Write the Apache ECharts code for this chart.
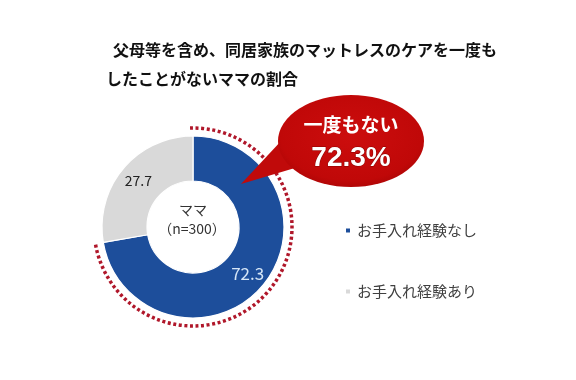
<!DOCTYPE html>
<html>
<head>
<meta charset="utf-8">
<script src="https://cdn.jsdelivr.net/npm/echarts@6/dist/echarts.min.js"></script>
<style>
html,body{margin:0;padding:0;background:#fff;}
#c{width:576px;height:380px;}
</style>
</head>
<body>
<div id="c"></div>
<script>
const titleLines = ['父母等を含め、同居家族のマットレスのケアを一度も', 'したことがないママの割合'];
const categories = ['お手入れ経験なし', 'お手入れ経験あり'];
const values = [72.3, 27.7];
const centerLabel = ['ママ', '（n=300）'];
const calloutLabel = '一度もない';

const FONT = '"Noto Sans CJK JP", "Noto Sans", sans-serif';
const CX = 193, CY = 227;
const total = values.reduce((a, b) => a + b, 0);
const share = values[0] / total;

const chart = echarts.init(document.getElementById('c'), null, {renderer: 'canvas'});
chart.setOption({
  animation: false,
  backgroundColor: '#ffffff',
  title: [
    {text: titleLines[0], left: 113, top: 42, padding: 0,
     textStyle: {fontFamily: FONT, fontSize: 16, fontWeight: 'bold', color: '#111'}},
    {text: titleLines[1], left: 106, top: 71, padding: 0,
     textStyle: {fontFamily: FONT, fontSize: 16, fontWeight: 'bold', color: '#111'}}
  ],
  legend: {
    orient: 'vertical', left: 344, top: 223, padding: 0,
    icon: 'rect', itemWidth: 6, itemHeight: 6, itemGap: 46,
    textStyle: {fontFamily: FONT, fontSize: 15, color: '#404040', padding: [0, 0, 0, 1]},
    data: categories
  },
  color: ['#1d4e9b', '#d9d9d9'],
  series: [{
    type: 'pie',
    center: [CX, CY],
    radius: [46, 91],
    startAngle: 90,
    clockwise: true,
    silent: true,
    avoidLabelOverlap: false,
    itemStyle: {borderColor: '#ffffff', borderWidth: 1.2},
    label: {show: true, position: 'inside', formatter: '{c}', fontFamily: FONT},
    labelLine: {show: false},
    data: categories.map((n, i) => ({
      name: n, value: values[i],
      label: i === 0
        ? {color: '#d6e6f7', fontSize: 17}
        : {color: '#222', fontSize: 14}
    }))
  }],
  graphic: [
    {type: 'arc', z: 5,
     shape: {cx: CX, cy: CY, r: 99,
             startAngle: -Math.PI / 2 - 0.03,
             endAngle: -Math.PI / 2 + 2 * Math.PI * share + 0.01,
             clockwise: true},
     style: {stroke: '#b0172a', lineWidth: 3.5, lineDash: [3, 2.6], fill: null}},
    {type: 'text', z: 5, x: CX, y: CY - 17,
     style: {text: centerLabel[0], font: '14px ' + FONT, fill: '#333', textAlign: 'center', textVerticalAlign: 'middle'}},
    {type: 'text', z: 5, x: CX - 1, y: CY + 2,
     style: {text: centerLabel[1], font: '14px ' + FONT, fill: '#333', textAlign: 'center', textVerticalAlign: 'middle'}},
    {type: 'polygon', z: 6,
     shape: {points: [[241, 184], [282, 140], [305, 165]]},
     style: {fill: '#c00a0a'}},
    {type: 'circle', z: 6, x: 351, y: 141, scaleY: 46 / 73,
     shape: {cx: 0, cy: 0, r: 73},
     style: {fill: {type: 'radial', x: 0.5, y: 0.45, r: 0.6,
                    colorStops: [{offset: 0, color: '#cc0d0d'}, {offset: 0.8, color: '#c00808'}, {offset: 1, color: '#a80505'}]}}},
    {type: 'text', z: 7, x: 351, y: 125,
     style: {text: calloutLabel, font: 'bold 19px ' + FONT, fill: '#ffffff', textAlign: 'center', textVerticalAlign: 'middle'}},
    {type: 'text', z: 7, x: 351, y: 158,
     style: {text: values[0].toFixed(1) + '%', font: 'bold 28px "Liberation Sans", Arial, sans-serif', fill: '#ffffff',
             textAlign: 'center', textVerticalAlign: 'middle', stroke: '#8a0000', lineWidth: 1}}
  ]
});
</script>
</body>
</html>
